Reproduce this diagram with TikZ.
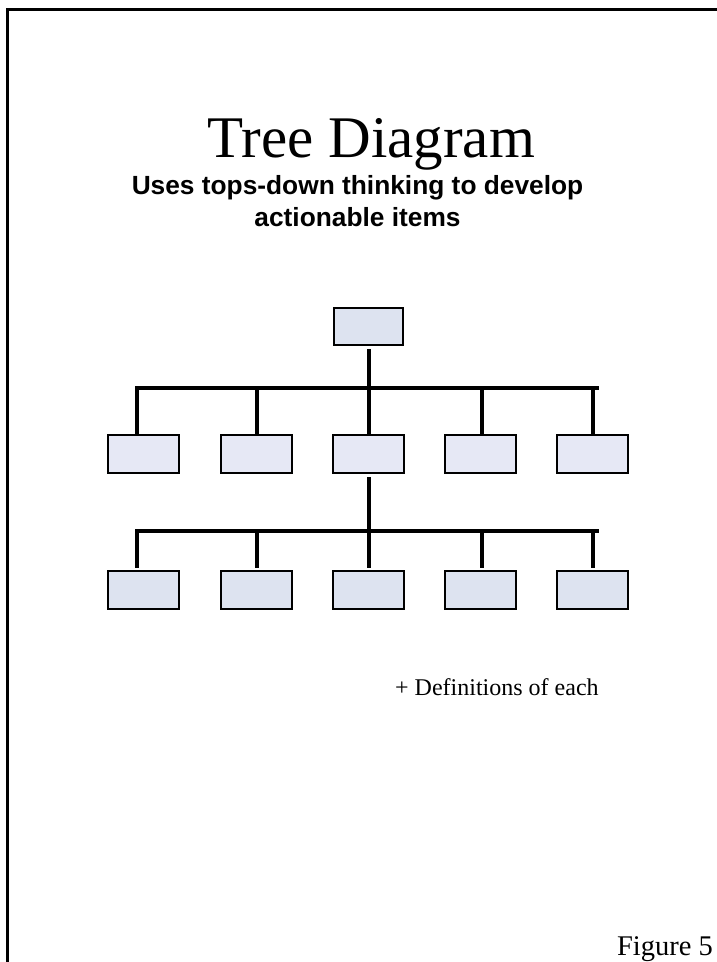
\documentclass[tikz,border=0pt]{standalone}
\usepackage{fontspec}
\setmainfont{Liberation Serif}
\newfontfamily\arialfont{Liberation Sans}
\definecolor{boxfillA}{HTML}{DDE3F0}
\definecolor{boxfillB}{HTML}{E6E8F5}
\begin{document}
\begin{tikzpicture}[x=1pt,y=-1pt,
  tbox/.style={draw=black, line width=2pt, fill=boxfillA, minimum width=69pt, minimum height=37pt, inner sep=0pt},
  tboxB/.style={tbox, fill=boxfillB},
  conn/.style={line width=4pt},
  frame/.style={line width=3pt}]
\useasboundingbox (0,0) rectangle (717,962);
% frame (top and left edges only)
\coordinate (fl) at (7,962);
\coordinate (fc) at (7,9);
\coordinate (fr) at (717,9);
\draw[frame] (fl) -- (fc) -- (fr);
% texts
\node[anchor=base, font=\fontsize{59}{59}\selectfont, inner sep=0pt] (title) at (371.5,157) {Tree Diagram};
\node[anchor=base, font=\arialfont\bfseries\fontsize{26.3}{26.3}\selectfont, inner sep=0pt] (sub1) at (357.5,194) {Uses tops-down thinking to develop};
\node[anchor=base, font=\arialfont\bfseries\fontsize{26.3}{26.3}\selectfont, inner sep=0pt] (sub2) at (357.5,226) {actionable items};
\node[anchor=base west, font=\fontsize{24}{24}\selectfont, inner sep=0pt] (defs) at (395,695) {+ Definitions of each};
\node[anchor=base east, font=\fontsize{28.5}{28.5}\selectfont, inner sep=0pt] (fig) at (713,955) {Figure 5};
% boxes
\node[tbox] (top) at (368.5,326.5) {};
\foreach \x/\n in {143.5/1,256.5/2,368.5/3,480/4,592/5}{
  \node[tboxB, minimum width=71pt, minimum height=38pt] (ra\n) at (\x,454) {};
  \node[tbox, minimum width=71pt, minimum height=38pt] (rb\n) at (\x,589.5) {};
}
% level 1 connectors
\coordinate (ta) at (369,349);
\coordinate (ja) at (369,388);
\coordinate (bal) at (137,388);
\coordinate (bar) at (599,388);
\draw[conn] (ta) -- (ja);
\draw[conn] (bal) -- (bar);
\foreach \x/\n in {137/1,257/2,369/3,482/4,593/5}{
  \coordinate (da\n) at (\x,386);
  \draw[conn] (da\n) -- (da\n |- ra\n.north) ++(0,-2);
}
% level 2 connectors
\coordinate (tb) at (369,477);
\coordinate (jb) at (369,531);
\coordinate (bbl) at (137,531);
\coordinate (bbr) at (599,531);
\draw[conn] (tb) -- (jb);
\draw[conn] (bbl) -- (bbr);
\foreach \x/\n in {137/1,257/2,369/3,482/4,593/5}{
  \coordinate (db\n) at (\x,529);
  \coordinate (eb\n) at (\x,568);
  \draw[conn] (db\n) -- (eb\n);
}
\end{tikzpicture}
\end{document}
